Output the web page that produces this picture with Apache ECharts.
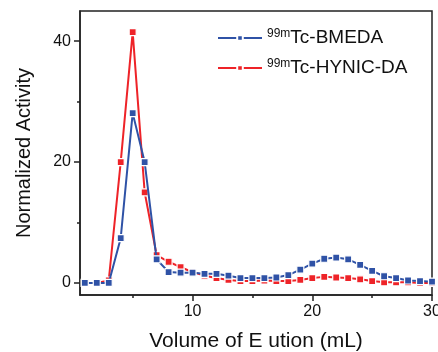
<!DOCTYPE html>
<html><head><meta charset="utf-8">
<script src="https://cdn.jsdelivr.net/npm/echarts@6/dist/echarts.min.js"></script>
<style>html,body{margin:0;padding:0;background:#fff}#c{width:438px;height:352px}</style>
</head><body><div id="c"></div>
<script>
var volumes = [1,2,3,4,5,6,7,8,9,10,11,12,13,14,15,16,17,18,19,20,21,22,23,24,25,26,27,28,29,30];
var bmeda = [0,0,0,7.4,28.1,20,3.9,1.8,1.7,1.7,1.5,1.5,1.2,0.8,0.8,0.8,0.9,1.3,2.2,3.2,4.0,4.2,3.9,3.0,2.0,1.1,0.8,0.4,0.3,0.2];
var hynic = [0,0,0.4,20,41.5,15,4.6,3.5,2.6,1.8,1.2,0.8,0.5,0.3,0.3,0.4,0.3,0.3,0.5,0.8,1.0,0.9,0.8,0.6,0.3,0.1,0.1,0.1,0,0];
var xLabels = [10,20,30];
var xMinor = [5,15,25];
var yLabels = [0,20,40];
var yMinor = [10,30];
var names = ['BMEDA','HYNIC'];
var legendText = {BMEDA:['99m','Tc-BMEDA'], HYNIC:['99m','Tc-HYNIC-DA']};

function pairs(ys){return volumes.map(function(v,i){return [v,ys[i]];});}
var BLUE='#2f52a6', RED='#ee2328';
var font='Liberation Sans, Arial, sans-serif';
function ser(name,data,color,z){
  return {name:name,type:'line',data:pairs(data),xAxisIndex:0,yAxisIndex:0,
    symbol:'rect',symbolSize:7,showSymbol:true,
    lineStyle:{color:color,width:2},
    itemStyle:{color:color,borderColor:'#fff',borderWidth:1.2},
    emphasis:{disabled:true},animation:false,z:z};
}
var tickStyle={color:'#222',width:1.5};
var chart = echarts.init(document.getElementById('c'),null,{renderer:'canvas'});
chart.setOption({
  animation:false,
  grid:{left:80,right:6,top:11,bottom:57,outerBoundsMode:'none',containLabel:false,show:true,borderColor:'#222',borderWidth:1.5,backgroundColor:'transparent'},
  legend:{
    data:names, top:23, left:212, orient:'vertical', itemGap:8,
    itemWidth:44, itemHeight:7,
    formatter:function(n){return '{s|'+legendText[n][0]+'}{t|'+legendText[n][1]+'}';},
    textStyle:{fontFamily:font,color:'#111',
      rich:{s:{fontSize:12,fontFamily:font,color:'#111',verticalAlign:'top',lineHeight:20,padding:[0,0,10,0]},
            t:{fontSize:19,fontFamily:font,color:'#111',lineHeight:20}}}
  },
  xAxis:[{type:'value',min:0.6,max:30,
    name:'Volume of E ution (mL)',nameLocation:'middle',nameGap:36,
    nameTextStyle:{fontFamily:font,fontSize:21,color:'#111'},
    splitLine:{show:false},
    axisLine:{show:true,onZero:false,lineStyle:{color:'#222',width:1.5}},
    axisTick:{show:true,customValues:xLabels,length:6,lineStyle:tickStyle},
    axisLabel:{customValues:xLabels,fontFamily:font,fontSize:16,color:'#111',margin:9}
  },{type:'value',min:0.6,max:30,position:'bottom',offset:0,
    splitLine:{show:false},axisLine:{show:false,onZero:false},
    axisTick:{show:true,customValues:xMinor,length:3,lineStyle:tickStyle},
    axisLabel:{show:false}
  }],
  yAxis:[{type:'value',min:-2,max:45,
    name:'Normalized Activity',nameLocation:'middle',nameGap:46,
    nameTextStyle:{fontFamily:font,fontSize:20,color:'#111'},
    splitLine:{show:false},
    axisLine:{show:true,onZero:false,lineStyle:{color:'#222',width:1.5}},
    axisTick:{show:true,customValues:yLabels,length:6,lineStyle:tickStyle},
    axisLabel:{customValues:yLabels,fontFamily:font,fontSize:16,color:'#111',margin:9}
  },{type:'value',min:-2,max:45,position:'left',offset:0,
    splitLine:{show:false},axisLine:{show:false,onZero:false},
    axisTick:{show:true,customValues:yMinor,length:3,lineStyle:tickStyle},
    axisLabel:{show:false}
  }],
  series:[ser('BMEDA',bmeda,BLUE,3),ser('HYNIC',hynic,RED,2)]
});
</script></body></html>
